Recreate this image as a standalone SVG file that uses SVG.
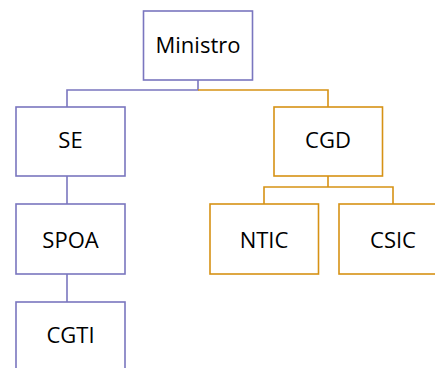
<svg xmlns="http://www.w3.org/2000/svg" width="435" height="368" viewBox="0 0 435 368">
  <style>
    .box { fill: #ffffff; stroke-width: 1.6; }
    .p { stroke: #7a76bf; }
    .o { stroke: #d69214; }
    .lbl { font-family: "Open Sans", "Noto Sans", sans-serif; font-size: 22px; fill: #000000; text-anchor: middle; }
    .wire { fill: none; stroke-width: 1.6; }
  </style>
  <rect width="435" height="368" fill="#ffffff"/>

  <g id="connectors">
    <path class="wire p" d="M198 80 V90 H67 V107"/>
    <path class="wire o" d="M198 90 H328 V107"/>
    <path class="wire p" d="M67 176 V204"/>
    <path class="wire p" d="M67 274 V302"/>
    <path class="wire o" d="M328 176 V187 M264 204 V187 H393 V204"/>
  </g>

  <g id="ministro">
    <rect class="box p" x="143.5" y="11" width="109" height="69"/>
    <text class="lbl" x="198" y="53">Ministro</text>
  </g>
  <g id="se">
    <rect class="box p" x="16" y="107" width="109" height="69"/>
    <text class="lbl" x="70.5" y="148">SE</text>
  </g>
  <g id="cgd">
    <rect class="box o" x="274" y="107" width="108.5" height="69"/>
    <text class="lbl" x="328" y="148">CGD</text>
  </g>
  <g id="spoa">
    <rect class="box p" x="16" y="204" width="109" height="70"/>
    <text class="lbl" x="70.5" y="248">SPOA</text>
  </g>
  <g id="ntic">
    <rect class="box o" x="210" y="204" width="108.5" height="70"/>
    <text class="lbl" x="264" y="248">NTIC</text>
  </g>
  <g id="csic">
    <rect class="box o" x="339" y="204" width="109" height="70"/>
    <text class="lbl" x="393" y="248">CSIC</text>
  </g>
  <g id="cgti">
    <rect class="box p" x="16" y="302" width="109" height="70"/>
    <text class="lbl" x="70.5" y="343">CGTI</text>
  </g>
</svg>
